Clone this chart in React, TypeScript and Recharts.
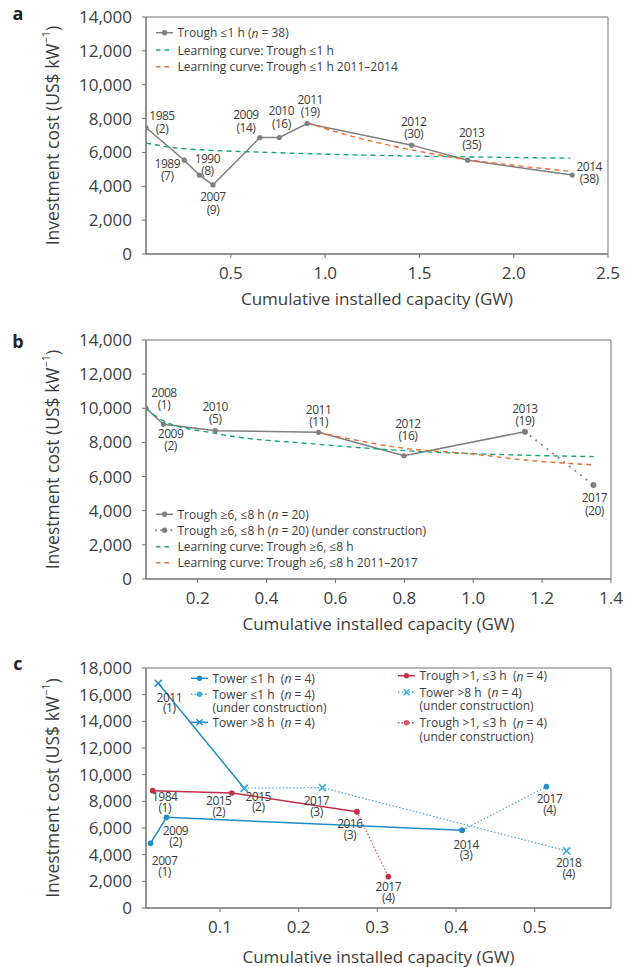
import React from 'react';
import { ComposedChart, Line, XAxis, YAxis, ReferenceArea, LabelList, Legend } from 'recharts';

// ---------------- DATA ----------------
// Panel a: Trough <=1 h
const aCapacity = [0.05, 0.253, 0.333, 0.405, 0.654, 0.757, 0.905, 1.459, 1.756, 2.31];
const aCost = [7470, 5540, 4660, 4080, 6880, 6880, 7710, 6430, 5540, 4660];
const aYears = ['1985', '1989', '1990', '2007', '2009', '2010', '2011', '2012', '2013', '2014'];
const aCounts = [2, 7, 8, 9, 14, 16, 19, 30, 35, 38];
const aLearnX = [0.05, 0.2, 0.4, 0.65, 1.0, 1.5, 2.0, 2.3];
const aLearnY = [6550, 6280, 6120, 6020, 5900, 5780, 5700, 5660];
const aLearn2011X = [0.905, 1.1, 1.29, 1.46, 1.76, 2.0, 2.31];
const aLearn2011Y = [7760, 7080, 6550, 6150, 5560, 5240, 4870];

// Panel b: Trough >=6, <=8 h
const bCapacity = [0.05, 0.101, 0.251, 0.551, 0.799, 1.15];
const bCost = [10000, 9060, 8690, 8590, 7220, 8630];
const bYears = ['2008', '2009', '2010', '2011', '2012', '2013'];
const bCounts = [1, 2, 5, 11, 16, 19];
const bUcCapacity = [1.15, 1.349];
const bUcCost = [8630, 5510];
const bUcYears = ['', '2017'];
const bUcCounts = [0, 20];
const bLearnX = [0.05, 0.1, 0.25, 0.55, 0.8, 1.15, 1.35];
const bLearnY = [10000, 9270, 8530, 7890, 7520, 7250, 7170];
const bLearn2011X = [0.551, 0.8, 1.0, 1.15, 1.35];
const bLearn2011Y = [8590, 7660, 7320, 6970, 6680];

// Panel c
const towerShortX = [0.0118, 0.032, 0.4077];
const towerShortY = [4850, 6800, 5830];
const towerShortYears = ['2007', '2009', '2014'];
const towerShortCounts = [1, 2, 3];
const towerShortUcX = [0.4077, 0.515];
const towerShortUcY = [5830, 9100];
const towerShortUcYears = ['', '2017'];
const towerShortUcCounts = [0, 4];
const towerLongX = [0.0216, 0.1308];
const towerLongY = [16860, 8980];
const towerLongYears = ['2011', '2015'];
const towerLongCounts = [1, 2];
const towerLongUcX = [0.1308, 0.2303, 0.5406];
const towerLongUcY = [8980, 9030, 4280];
const towerLongUcYears = ['', '2017', '2018'];
const towerLongUcCounts = [0, 3, 4];
const troughMidX = [0.0145, 0.115, 0.274];
const troughMidY = [8800, 8630, 7220];
const troughMidYears = ['1984', '2015', '2016'];
const troughMidCounts = [1, 2, 3];
const troughMidUcX = [0.274, 0.314];
const troughMidUcY = [7220, 2350];
const troughMidUcYears = ['', '2017'];
const troughMidUcCounts = [0, 4];

const aXTicks = [0.5, 1.0, 1.5, 2.0, 2.5];
const bXTicks = [0.2, 0.4, 0.6, 0.8, 1.0, 1.2, 1.4];
const cXTicks = [0.1, 0.2, 0.3, 0.4, 0.5];
const abYTicks = [0, 2000, 4000, 6000, 8000, 10000, 12000, 14000];
const cYTicks = [0, 2000, 4000, 6000, 8000, 10000, 12000, 14000, 16000, 18000];

// ---------------- STYLE ----------------
const FONT = '"Open Sans", "DejaVu Sans", sans-serif';
const TEXT = '#3d3d3d';
const AXIS = '#707070';
const GRAY = '#7f7f7f';
const GREEN = '#14a67a';
const ORANGE = '#ec6a2b';
const BLUE = '#1d8ec7';
const LBLUE = '#42abe0';
const RED = '#c3304c';
const LRED = '#d9566f';

// label placement (offsets of the year line from the point, px)
const aLabelOffsets = [[16, -12], [-17, 3], [8, -17], [0, 12], [-14, -23], [2, -27], [3, -24], [2, -24], [4, -28], [17, -9]];
const bLabelOffsets = [[18, -16], [7, 9], [0, -24], [0, -23], [4, -32], [0, -23]];
const bUcLabelOffsets = [[0, 0], [1, 13]];
const cTowerShortOffsets = [[14, 17], [9, 13], [4, 14]];
const cTowerShortUcOffsets = [[0, 0], [3, 12]];
const cTowerLongOffsets = [[11, 14], [14, 8]];
const cTowerLongUcOffsets = [[0, 0], [-6, 13], [2, 12]];
const cTroughOffsets = [[12, 6], [-13, 8], [-7, 12]];
const cTroughUcOffsets = [[0, 0], [0, 10]];

const fmtThousands = (v: number) => String(v).replace(/\B(?=(\d{3})+(?!\d))/g, ',');
const fmt1 = (v: number) => v.toFixed(1);
const toPts = (xs: number[], ys: number[]) => xs.map((x, i) => ({ x, y: ys[i] }));

const tickStyle = { fill: TEXT, fontSize: 17, fontFamily: FONT };

function yearLabel(years: string[], counts: number[], offsets: number[][], gap: number) {
  return (props: any) => {
    const i = props.index;
    const x = props.x ?? props.viewBox?.x;
    const y = props.y ?? props.viewBox?.y;
    if (!years[i] || x == null || y == null) return null;
    const [dx, dy] = offsets[i];
    const common = {
      textAnchor: 'middle' as const,
      dominantBaseline: 'central' as const,
      fontSize: 12,
      letterSpacing: -0.5,
      fill: TEXT,
      fontFamily: FONT,
    };
    return (
      <g key={`lab-${i}`}>
        <text x={x + dx} y={y + dy} {...common}>{years[i]}</text>
        <text x={x + dx} y={y + dy + gap} {...common}>({counts[i]})</text>
      </g>
    );
  };
}

const dotRenderer = (color: string, r: number) => (p: any) => (
  <circle key={`d-${p.index}`} cx={p.cx} cy={p.cy} r={r} fill={color} stroke="none" />
);
const crossRenderer = (color: string) => (p: any) => (
  <path
    key={`x-${p.index}`}
    d={`M${p.cx - 3.5},${p.cy - 3.5}L${p.cx + 3.5},${p.cy + 3.5}M${p.cx - 3.5},${p.cy + 3.5}L${p.cx + 3.5},${p.cy - 3.5}`}
    stroke={color}
    strokeWidth={1.6}
    fill="none"
  />
);

function YTitle(props: any) {
  const vb = props.viewBox || {};
  const cx = vb.x + 6;
  const cy = vb.y + vb.height / 2;
  return (
    <text
      x={cx}
      y={cy}
      transform={`rotate(-90, ${cx}, ${cy})`}
      textAnchor="middle"
      dominantBaseline="central"
      fontSize={17.5}
      fill={TEXT}
      fontFamily={FONT}
    >
      Investment cost (US$ kW<tspan dy={-7} fontSize={11}>−1</tspan>
      <tspan dy={7}>)</tspan>
    </text>
  );
}

const xTitle = (offset: number) => (props: any) => {
  const vb = props.viewBox || {};
  return (
    <text
      x={vb.x + vb.width / 2}
      y={vb.y + offset}
      textAnchor="middle"
      dominantBaseline="central"
      fontSize={17}
      fill={TEXT}
      fontFamily={FONT}
    >
      Cumulative installed capacity (GW)
    </text>
  );
};

type LegendEntry = {
  lines: React.ReactNode[];
  color: string;
  dash?: string;
  marker: 'dot' | 'x' | 'none';
  x: number;
  y: number;
  width?: number;
};

function legendContent(entries: LegendEntry[], w: number, h: number) {
  return () => (
    <svg width={w} height={h} style={{ overflow: 'visible', display: 'block' }}>
      {entries.map((e, i) => (
        <g key={i}>
          <line
            x1={e.x}
            x2={e.x + 17}
            y1={e.y}
            y2={e.y}
            stroke={e.color}
            strokeWidth={e.width ?? 1.5}
            strokeDasharray={e.dash}
            strokeLinecap={e.dash && e.dash.startsWith('0.') ? 'round' : 'butt'}
          />
          {e.marker === 'dot' && <circle cx={e.x + 8.5} cy={e.y} r={2.7} fill={e.color} />}
          {e.marker === 'x' && (
            <path
              d={`M${e.x + 5.5},${e.y - 3}L${e.x + 11.5},${e.y + 3}M${e.x + 5.5},${e.y + 3}L${e.x + 11.5},${e.y - 3}`}
              stroke={e.color}
              strokeWidth={1.5}
            />
          )}
          {e.lines.map((ln, j) => (
            <text
              key={j}
              x={e.x + 21.5}
              y={e.y + j * 13.4}
              dominantBaseline="central"
              fontSize={12}
              fill={TEXT}
              fontFamily={FONT}
              style={{ whiteSpace: 'pre' }}
            >
              {ln}
            </text>
          ))}
        </g>
      ))}
    </svg>
  );
}

const nItal = (rest: string, pre = '') => (
  <>
    {pre}(<tspan fontStyle="italic">n</tspan>
    {rest}
  </>
);

const chartStyle = { overflow: 'visible' as const };

// ---------------- PANELS ----------------
function PanelA() {
  const legend: LegendEntry[] = [
    { lines: [<>Trough ≤1 h {nItal(' = 38)')}</>], color: GRAY, marker: 'dot', x: 6, y: 12.7 },
    { lines: ['Learning curve: Trough ≤1 h'], color: GREEN, dash: '4.5 4', marker: 'none', x: 6, y: 30 },
    { lines: ['Learning curve: Trough ≤1 h 2011–2014'], color: ORANGE, dash: '4.5 4', marker: 'none', x: 6, y: 46.7 },
  ];
  return (
    <ComposedChart width={628} height={320} margin={{ top: 17, right: 20, bottom: 16, left: 46 }} style={chartStyle}>
      <XAxis
        dataKey="x"
        type="number"
        domain={[0.05, 2.5]}
        ticks={aXTicks}
        tickFormatter={fmt1}
        allowDataOverflow
        stroke={AXIS}
        tick={tickStyle}
        tickSize={4}
        tickMargin={9}
        height={50}
        label={{ content: xTitle(44) }}
      />
      <YAxis
        type="number"
        domain={[0, 14000]}
        ticks={abYTicks}
        tickFormatter={fmtThousands}
        stroke={AXIS}
        tick={tickStyle}
        tickSize={4}
        tickMargin={10}
        width={100}
        label={{ content: YTitle }}
      />
      <ReferenceArea x1={0.05} x2={2.5} y1={0} y2={14000} fill="none" fillOpacity={0} stroke={AXIS} strokeWidth={1} ifOverflow="visible" />
      <Line data={toPts(aCapacity, aCost)} dataKey="y" type="linear" stroke={GRAY} strokeWidth={1.5} dot={dotRenderer(GRAY, 2.6)} isAnimationActive={false}>
        <LabelList dataKey="y" content={yearLabel(aYears, aCounts, aLabelOffsets, 12.5)} />
      </Line>
      <Line data={toPts(aLearnX, aLearnY)} dataKey="y" type="monotone" stroke={GREEN} strokeWidth={1.4} strokeDasharray="5 4" dot={false} isAnimationActive={false} />
      <Line data={toPts(aLearn2011X, aLearn2011Y)} dataKey="y" type="monotone" stroke={ORANGE} strokeWidth={1.4} strokeDasharray="5 4" dot={false} isAnimationActive={false} />
      <Legend
        layout="vertical"
        align="center"
        verticalAlign="middle"
        content={legendContent(legend, 300, 60)}
        wrapperStyle={{ left: 150, top: 20, width: 300, height: 60 }}
      />
    </ComposedChart>
  );
}

function PanelB() {
  const legend: LegendEntry[] = [
    { lines: [<>Trough ≥6, ≤8 h {nItal(' = 20)')}</>], color: GRAY, marker: 'dot', x: 6, y: 14.3 },
    { lines: [<>Trough ≥6, ≤8 h {nItal(' = 20) (under construction)')}</>], color: GRAY, dash: '0.1 5', width: 2, marker: 'dot', x: 6, y: 30.3 },
    { lines: ['Learning curve: Trough ≥6, ≤8 h'], color: GREEN, dash: '4.5 4', marker: 'none', x: 6, y: 46.7 },
    { lines: ['Learning curve: Trough ≥6, ≤8 h 2011–2017'], color: ORANGE, dash: '4.5 4', marker: 'none', x: 6, y: 62.7 },
  ];
  return (
    <ComposedChart width={628} height={345} margin={{ top: 40, right: 17, bottom: 16, left: 46 }} style={chartStyle}>
      <XAxis
        dataKey="x"
        type="number"
        domain={[0.05, 1.4]}
        ticks={bXTicks}
        tickFormatter={fmt1}
        allowDataOverflow
        stroke={AXIS}
        tick={tickStyle}
        tickSize={4}
        tickMargin={9}
        height={50}
        label={{ content: xTitle(44) }}
      />
      <YAxis
        type="number"
        domain={[0, 14000]}
        ticks={abYTicks}
        tickFormatter={fmtThousands}
        stroke={AXIS}
        tick={tickStyle}
        tickSize={4}
        tickMargin={10}
        width={100}
        label={{ content: YTitle }}
      />
      <ReferenceArea x1={0.05} x2={1.4} y1={0} y2={14000} fill="none" fillOpacity={0} stroke={AXIS} strokeWidth={1} ifOverflow="visible" />
      <Line data={toPts(bCapacity, bCost)} dataKey="y" type="linear" stroke={GRAY} strokeWidth={1.5} dot={dotRenderer(GRAY, 2.6)} isAnimationActive={false}>
        <LabelList dataKey="y" content={yearLabel(bYears, bCounts, bLabelOffsets, 12)} />
      </Line>
      <Line data={toPts(bUcCapacity, bUcCost)} dataKey="y" type="linear" stroke={GRAY} strokeWidth={2} strokeDasharray="0.1 7" strokeLinecap="round" dot={dotRenderer(GRAY, 3)} isAnimationActive={false}>
        <LabelList dataKey="y" content={yearLabel(bUcYears, bUcCounts, bUcLabelOffsets, 13)} />
      </Line>
      <Line data={toPts(bLearnX, bLearnY)} dataKey="y" type="monotone" stroke={GREEN} strokeWidth={1.4} strokeDasharray="5 4" dot={false} isAnimationActive={false} />
      <Line data={toPts(bLearn2011X, bLearn2011Y)} dataKey="y" type="monotone" stroke={ORANGE} strokeWidth={1.4} strokeDasharray="5 4" dot={false} isAnimationActive={false} />
      <Legend
        layout="vertical"
        align="center"
        verticalAlign="middle"
        content={legendContent(legend, 320, 75)}
        wrapperStyle={{ left: 150, top: 200, width: 320, height: 75 }}
      />
    </ComposedChart>
  );
}

function PanelC() {
  const legend: LegendEntry[] = [
    { lines: [<>Tower ≤1 h  {nItal(' = 4)')}</>], color: BLUE, marker: 'dot', x: 11, y: 18.3 },
    { lines: [<>Tower ≤1 h  {nItal(' = 4)')}</>, '(under construction)'], color: LBLUE, dash: '1.5 2', marker: 'dot', x: 11, y: 34.3 },
    { lines: [<>Tower &gt;8 h  {nItal(' = 4)')}</>], color: BLUE, marker: 'x', x: 11, y: 62.3 },
    { lines: [<>Trough &gt;1, ≤3 h  {nItal(' = 4)')}</>], color: RED, marker: 'dot', x: 218, y: 15.7 },
    { lines: [<>Tower &gt;8 h  {nItal(' = 4)')}</>, '(under construction)'], color: LBLUE, dash: '1.5 2', marker: 'x', x: 218, y: 32.3 },
    { lines: [<>Trough &gt;1, ≤3 h  {nItal(' = 4)')}</>, '(under construction)'], color: LRED, dash: '1.5 2', marker: 'dot', x: 218, y: 62.7 },
  ];
  return (
    <ComposedChart width={628} height={337} margin={{ top: 38, right: 17, bottom: 4, left: 46 }} style={chartStyle}>
      <XAxis
        dataKey="x"
        type="number"
        domain={[0.006, 0.597]}
        ticks={cXTicks}
        tickFormatter={fmt1}
        allowDataOverflow
        stroke={AXIS}
        tick={tickStyle}
        tickSize={4}
        tickMargin={9}
        height={55}
        label={{ content: xTitle(48) }}
      />
      <YAxis
        type="number"
        domain={[0, 18000]}
        ticks={cYTicks}
        tickFormatter={fmtThousands}
        stroke={AXIS}
        tick={tickStyle}
        tickSize={4}
        tickMargin={10}
        width={100}
        label={{ content: YTitle }}
      />
      <ReferenceArea x1={0.006} x2={0.597} y1={0} y2={18000} fill="none" fillOpacity={0} stroke={AXIS} strokeWidth={1} ifOverflow="visible" />
      <Line data={toPts(towerShortX, towerShortY)} dataKey="y" type="linear" stroke={BLUE} strokeWidth={1.5} dot={dotRenderer(BLUE, 2.8)} isAnimationActive={false}>
        <LabelList dataKey="y" content={yearLabel(towerShortYears, towerShortCounts, cTowerShortOffsets, 10.7)} />
      </Line>
      <Line data={toPts(towerShortUcX, towerShortUcY)} dataKey="y" type="linear" stroke={LBLUE} strokeWidth={1.2} strokeDasharray="1.5 2" dot={dotRenderer(BLUE, 2.8)} isAnimationActive={false}>
        <LabelList dataKey="y" content={yearLabel(towerShortUcYears, towerShortUcCounts, cTowerShortUcOffsets, 10.7)} />
      </Line>
      <Line data={toPts(towerLongX, towerLongY)} dataKey="y" type="linear" stroke={BLUE} strokeWidth={1.5} dot={crossRenderer(BLUE)} isAnimationActive={false}>
        <LabelList dataKey="y" content={yearLabel(towerLongYears, towerLongCounts, cTowerLongOffsets, 10.7)} />
      </Line>
      <Line data={toPts(towerLongUcX, towerLongUcY)} dataKey="y" type="linear" stroke={LBLUE} strokeWidth={1.2} strokeDasharray="1.5 2" dot={crossRenderer(LBLUE)} isAnimationActive={false}>
        <LabelList dataKey="y" content={yearLabel(towerLongUcYears, towerLongUcCounts, cTowerLongUcOffsets, 10.7)} />
      </Line>
      <Line data={toPts(troughMidX, troughMidY)} dataKey="y" type="linear" stroke={RED} strokeWidth={1.5} dot={dotRenderer(RED, 2.8)} isAnimationActive={false}>
        <LabelList dataKey="y" content={yearLabel(troughMidYears, troughMidCounts, cTroughOffsets, 10.7)} />
      </Line>
      <Line data={toPts(troughMidUcX, troughMidUcY)} dataKey="y" type="linear" stroke={LRED} strokeWidth={1.2} strokeDasharray="1.5 2" dot={dotRenderer(RED, 2.8)} isAnimationActive={false}>
        <LabelList dataKey="y" content={yearLabel(troughMidUcYears, troughMidUcCounts, cTroughUcOffsets, 10.7)} />
      </Line>
      <Legend
        layout="vertical"
        align="center"
        verticalAlign="middle"
        content={legendContent(legend, 400, 85)}
        wrapperStyle={{ left: 180, top: 30, width: 400, height: 85 }}
      />
    </ComposedChart>
  );
}

export default function App() {
  const panelLetter = { fontFamily: FONT, fontWeight: 700, fontSize: 18, fill: '#222' };
  return (
    <div style={{ position: 'absolute', left: 0, top: 0, width: 628, height: 967, background: '#fff', overflow: 'hidden' }}>
      <svg width={628} height={967} style={{ position: 'absolute', left: 0, top: 0 }}>
        <text x={18} y={20} textAnchor="middle" {...panelLetter}>a</text>
        <text x={18} y={348} textAnchor="middle" {...panelLetter}>b</text>
        <text x={18} y={670} textAnchor="middle" {...panelLetter}>c</text>
      </svg>
      <div style={{ position: 'absolute', left: 0, top: 0 }}>
        <PanelA />
      </div>
      <div style={{ position: 'absolute', left: 0, top: 300 }}>
        <PanelB />
      </div>
      <div style={{ position: 'absolute', left: 0, top: 630 }}>
        <PanelC />
      </div>
    </div>
  );
}
